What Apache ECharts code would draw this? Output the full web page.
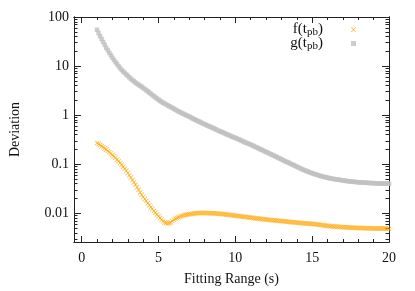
<!DOCTYPE html>
<html><head><meta charset="utf-8">
<script src="https://cdn.jsdelivr.net/npm/echarts@6/dist/echarts.min.js"></script>
<style>html,body{margin:0;padding:0;background:#fff}#c{width:415px;height:291px}</style>
</head><body><div id="c"></div>
<script>
// Fitting range (s)
var fitRange = [
1.0,1.1,1.2,1.3,1.4,1.5,1.6,1.7,1.8,1.9,
2.0,2.1,2.2,2.3,2.4,2.5,2.6,2.7,2.8,2.9,
3.0,3.1,3.2,3.3,3.4,3.5,3.6,3.7,3.8,3.9,
4.0,4.1,4.2,4.3,4.4,4.5,4.6,4.7,4.8,4.9,
5.0,5.1,5.2,5.3,5.4,5.5,5.6,5.7,5.8,5.9,
6.0,6.1,6.2,6.3,6.4,6.5,6.6,6.7,6.8,6.9,
7.0,7.1,7.2,7.3,7.4,7.5,7.6,7.7,7.8,7.9,
8.0,8.1,8.2,8.3,8.4,8.5,8.6,8.7,8.8,8.9,
9.0,9.1,9.2,9.3,9.4,9.5,9.6,9.7,9.8,9.9,
10.0,10.1,10.2,10.3,10.4,10.5,10.6,10.7,10.8,10.9,
11.0,11.1,11.2,11.3,11.4,11.5,11.6,11.7,11.8,11.9,
12.0,12.1,12.2,12.3,12.4,12.5,12.6,12.7,12.8,12.9,
13.0,13.1,13.2,13.3,13.4,13.5,13.6,13.7,13.8,13.9,
14.0,14.1,14.2,14.3,14.4,14.5,14.6,14.7,14.8,14.9,
15.0,15.1,15.2,15.3,15.4,15.5,15.6,15.7,15.8,15.9,
16.0,16.1,16.2,16.3,16.4,16.5,16.6,16.7,16.8,16.9,
17.0,17.1,17.2,17.3,17.4,17.5,17.6,17.7,17.8,17.9,
18.0,18.1,18.2,18.3,18.4,18.5,18.6,18.7,18.8,18.9,
19.0,19.1,19.2,19.3,19.4,19.5,19.6,19.7,19.8,19.9,
20.0];
// f(t_pb) deviation
var fDev = [
0.272,0.259,0.245,0.233,0.221,0.210,0.200,0.187,0.176,0.165,
0.155,0.145,0.135,0.124,0.115,0.106,0.0977,0.0891,0.0813,0.0733,
0.0661,0.0596,0.0537,0.0479,0.0427,0.0380,0.0339,0.0301,0.0266,0.0240,
0.0216,0.0196,0.0178,0.0161,0.0146,0.0133,0.0122,0.0112,0.0102,0.00944,
0.00871,0.00804,0.00741,0.00692,0.00646,0.00631,0.00624,0.00631,0.00646,0.00700,
0.00741,0.00772,0.00804,0.00832,0.00861,0.00882,0.00902,0.00918,0.00933,0.00946,
0.00959,0.00971,0.00982,0.00991,0.0100,0.01005,0.01009,0.01011,0.01012,0.01012,
0.01012,0.01011,0.01009,0.01007,0.01005,0.01003,0.0100,0.00995,0.00989,0.00981,
0.00973,0.00966,0.00959,0.00952,0.00944,0.00937,0.00929,0.00920,0.00912,0.00903,
0.00895,0.00887,0.00879,0.00871,0.00863,0.00855,0.00847,0.00840,0.00832,0.00825,
0.00817,0.00810,0.00802,0.00795,0.00787,0.00780,0.00773,0.00766,0.00759,0.00752,
0.00746,0.00740,0.00735,0.00729,0.00724,0.00719,0.00714,0.00709,0.00705,0.00700,
0.00695,0.00690,0.00685,0.00680,0.00676,0.00670,0.00665,0.00660,0.00655,0.00650,
0.00646,0.00641,0.00637,0.00632,0.00628,0.00624,0.00621,0.00617,0.00614,0.00610,
0.00607,0.00603,0.00600,0.00594,0.00589,0.00582,0.00575,0.00570,0.00565,0.00560,
0.00556,0.00551,0.00547,0.00543,0.00540,0.00536,0.00533,0.00530,0.00527,0.00524,
0.00522,0.00520,0.00518,0.00515,0.00513,0.00511,0.00509,0.00507,0.00506,0.00504,
0.00502,0.00501,0.00500,0.00499,0.00498,0.00496,0.00495,0.00494,0.00493,0.00492,
0.00491,0.00490,0.00490,0.00489,0.00489,0.00488,0.00488,0.00487,0.00486,0.00486,
0.00485];
// g(t_pb) deviation
var gDev = [
55.0,47.3,40.7,35.5,30.9,26.9,23.4,20.9,18.6,16.6,
14.8,13.3,12.0,11.0,10.0,9.12,8.32,7.76,7.24,6.76,
6.31,5.89,5.50,5.19,4.90,4.62,4.37,4.17,3.98,3.78,
3.59,3.40,3.24,3.05,2.88,2.72,2.57,2.43,2.29,2.18,
2.07,1.96,1.86,1.79,1.72,1.65,1.58,1.52,1.46,1.41,
1.35,1.29,1.24,1.19,1.15,1.11,1.07,1.03,1.00,0.966,
0.933,0.896,0.861,0.832,0.804,0.777,0.750,0.725,0.700,0.676,
0.653,0.631,0.610,0.592,0.575,0.556,0.537,0.519,0.501,0.484,
0.468,0.455,0.442,0.427,0.412,0.400,0.389,0.376,0.363,0.353,
0.343,0.333,0.324,0.313,0.302,0.292,0.282,0.274,0.266,0.258,
0.251,0.242,0.234,0.226,0.219,0.211,0.204,0.197,0.191,0.184,
0.178,0.172,0.166,0.160,0.155,0.150,0.145,0.140,0.135,0.130,
0.126,0.121,0.117,0.113,0.110,0.106,0.102,0.0987,0.0955,0.0922,
0.0891,0.0861,0.0832,0.0803,0.0776,0.0754,0.0733,0.0712,0.0692,0.0672,
0.0653,0.0638,0.0624,0.0610,0.0596,0.0582,0.0569,0.0559,0.0550,0.0540,
0.0531,0.0522,0.0513,0.0507,0.0501,0.0495,0.0490,0.0484,0.0479,0.0473,
0.0468,0.0462,0.0457,0.0453,0.0449,0.0445,0.0442,0.0438,0.0435,0.0432,
0.0429,0.0427,0.0425,0.0423,0.0421,0.0419,0.0417,0.0415,0.0414,0.0412,
0.0411,0.0409,0.0408,0.0407,0.0406,0.0405,0.0405,0.0404,0.0403,0.0402,
0.0401];
var xMajor = [0,5,10,15,20];
var xMinor = [1,2,3,4,6,7,8,9,11,12,13,14,16,17,18,19];
var yMajorLabels = ['0.01','0.1','1','10','100'];
var yMajorExp = [-2,-1,0,1,2];
var yMin = 0.0026, yMax = 100;

var lg = function(v){ return Math.log10(v); };
var yMinor = [];
[-3,-2,-1,0,1].forEach(function(e){ for (var k=2;k<=9;k++){ var v=lg(k)+e; if (v>lg(yMin) && v<lg(yMax)) yMinor.push(v);} });

var FONT = 'Liberation Serif';
var AX = '#222';
var chart = echarts.init(document.getElementById('c'), null, {renderer:'canvas'});
function xAx(pos, ticks, len, labels, name){
  return {type:'value', position:pos, min:-0.5, max:20,
    name: name||'', nameLocation:'middle', nameGap:30,
    nameTextStyle:{fontFamily:FONT, fontSize:14, color:'#111'},
    axisLine:{show:true, onZero:false, lineStyle:{color:AX, width:1}},
    axisTick:{show:true, inside:true, length:len, customValues:ticks, lineStyle:{color:AX}},
    axisLabel:{show:labels, customValues:xMajor, margin:9, fontFamily:FONT, fontSize:14, color:'#111'},
    splitLine:{show:false}};
}
function yAx(pos, ticks, len, labels, name){
  return {type:'value', position:pos, min:lg(yMin), max:lg(yMax),
    name: name||'', nameLocation:'middle', nameGap:52,
    nameTextStyle:{fontFamily:FONT, fontSize:14, color:'#111'},
    axisLine:{show:true, onZero:false, lineStyle:{color:AX, width:1}},
    axisTick:{show:true, inside:true, length:len, customValues:ticks, lineStyle:{color:AX}},
    axisLabel:{show:labels, customValues:yMajorExp, margin:5, fontFamily:FONT, fontSize:14, color:'#111',
      formatter:function(v){ var i=yMajorExp.indexOf(Math.round(v)); return i>=0?yMajorLabels[i]:''; }},
    splitLine:{show:false}};
}
var crossPath = 'path://M0,1L1,0L5,4L9,0L10,1L6,5L10,9L9,10L5,6L1,10L0,9L4,5Z';
function pairs(ys){ return fitRange.map(function(x,i){ return [x, lg(ys[i])]; }); }
chart.setOption({
  animation:false,
  grid:{left:71, right:26, top:17, bottom:47, containLabel:false},
  legend:{right:54, top:16, orient:'vertical', align:'right', itemGap:-3, itemWidth:5, itemHeight:5,
    textStyle:{fontFamily:FONT, fontSize:15, color:'#111', padding:[0,23,0,0], lineHeight:15,
      rich:{sub:{fontFamily:FONT, fontSize:11, padding:[6,0,0,0], lineHeight:11, color:'#111'}}},
    formatter:function(n){ return n==='f' ? 'f(t{sub|pb})' : 'g(t{sub|pb})'; },
    data:[{name:'f', icon:crossPath},{name:'g', icon:'rect'}]},
  xAxis:[xAx('bottom', xMajor, 6, true, 'Fitting Range (s)'), xAx('bottom', xMinor, 3, false),
         xAx('top', xMajor, 6, false), xAx('top', xMinor, 3, false)],
  yAxis:[yAx('left', yMajorExp, 7, true, 'Deviation'), yAx('left', yMinor, 3.5, false),
         yAx('right', yMajorExp, 7, false), yAx('right', yMinor, 3.5, false)],
  series:[
    {name:'f', type:'scatter', data:pairs(fDev), symbol:crossPath, symbolSize:5,
     itemStyle:{color:'#FFA500'}},
    {name:'g', type:'scatter', data:pairs(gDev), symbol:'rect', symbolSize:4.5,
     itemStyle:{color:'#C0C0C0'}}
  ]
});
</script></body></html>
